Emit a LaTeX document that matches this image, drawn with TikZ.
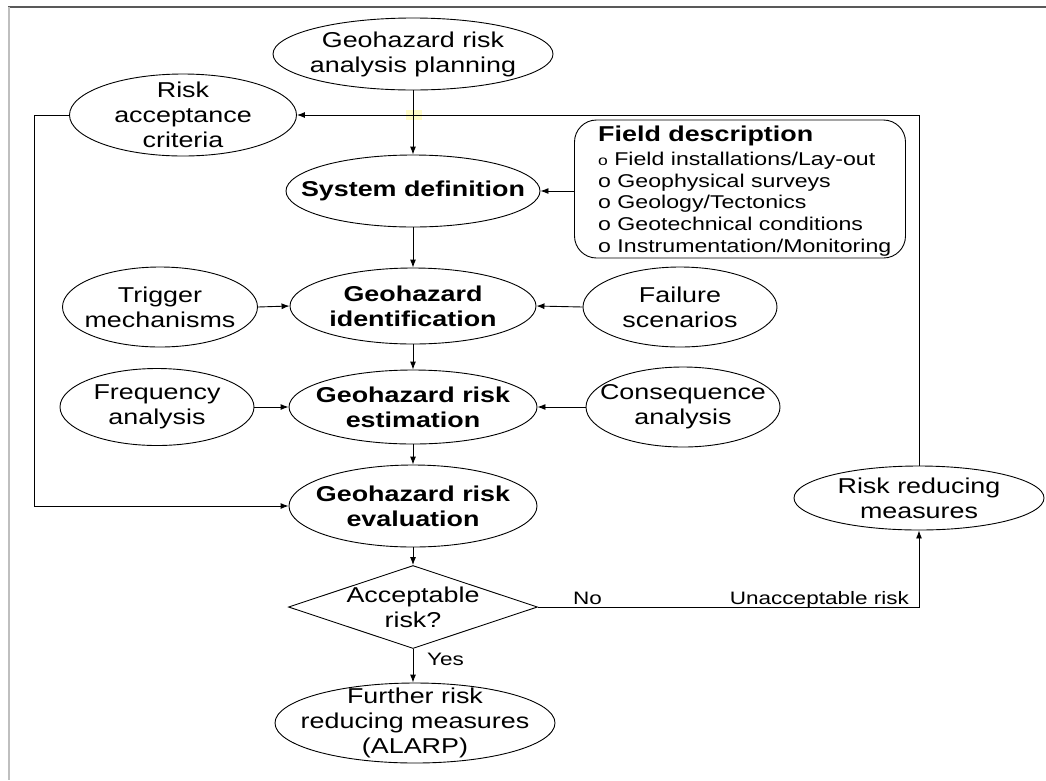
\documentclass[tikz,border=0pt]{standalone}
\usepackage{fontspec}
\setmainfont[FakeStretch=1.25]{Liberation Sans}
\usetikzlibrary{shapes.geometric,arrows.meta}
\begin{document}
\begin{tikzpicture}[x=1pt,y=-1pt,
  ell/.style={draw, ellipse, inner sep=0pt, line width=0.9pt},
  txt/.style={align=center, font=\fontsize{21.5}{25}\selectfont, inner sep=0pt},
  btxt/.style={align=center, font=\fontsize{21.5}{25}\selectfont\bfseries, inner sep=0pt},
  arr/.style={-{Latex[length=8pt,width=6pt]}, line width=0.9pt},
  lbl/.style={font=\fontsize{18}{20}\selectfont, inner sep=0pt},
  item/.style={font=\fontsize{18.5}{21.8}\selectfont, inner sep=0pt, anchor=base west}
]
\useasboundingbox (0,0) rectangle (1046,780);
% frame
\draw[gray!70!black, line width=1.5pt] (8,7) -- (1046,7);
\draw[gray!50, line width=2pt] (9,7) -- (9,780);
% small yellow mark
\fill[yellow!22!white] (406,110) rectangle (422,120);

% nodes
\node[ell, minimum width=280pt, minimum height=72pt, label={[txt]center:{Geohazard risk\\analysis planning}}] (plan) at (413,54) {};
\node[ell, minimum width=227pt, minimum height=82pt, label={[txt]center:{Risk\\acceptance\\criteria}}] (risk) at (183,115) {};
\node[ell, minimum width=254pt, minimum height=72pt, label={[btxt]center:{System definition}}] (sysdef) at (413,191) {};
\node[draw, rounded corners=22pt, line width=0.9pt, minimum width=331pt, minimum height=138pt, inner sep=0pt] (field) at (740,189) {};
\node[anchor=base west, inner sep=0pt, font=\fontsize{21.5}{24}\selectfont\bfseries] (ftitle) at (598,141) {Field description};
\node[item] (f1) at (598,165) {{\fontsize{14}{14}\selectfont o} Field installations/Lay-out};
\node[item] (f2) at (598,187) {o Geophysical surveys};
\node[item] (f3) at (598,208.5) {o Geology/Tectonics};
\node[item] (f4) at (598,230.5) {o Geotechnical conditions};
\node[item] (f5) at (598,252.5) {o Instrumentation/Monitoring};

\node[ell, minimum width=195pt, minimum height=80pt, label={[txt]center:{Trigger\\mechanisms}}] (trig) at (160,307) {};
\node[ell, minimum width=246pt, minimum height=76pt, label={[btxt]center:{Geohazard\\identification}}] (gi) at (413,306) {};
\node[ell, minimum width=194pt, minimum height=80pt, label={[txt]center:{Failure\\scenarios}}] (fail) at (680,307) {};

\node[ell, minimum width=194pt, minimum height=77pt, label={[txt]center:{Frequency\\analysis}}] (freq) at (157,407) {};
\node[ell, minimum width=248pt, minimum height=74pt, label={[btxt]center:{Geohazard risk\\estimation}}] (gre) at (413,407) {};
\node[ell, minimum width=194pt, minimum height=80pt, label={[txt]center:{Consequence\\analysis}}] (cons) at (683,407) {};

\node[ell, minimum width=248pt, minimum height=82pt, label={[btxt]center:{Geohazard risk\\evaluation}}] (grev) at (413,506) {};
\node[ell, minimum width=250pt, minimum height=64pt, label={[txt]center:{Risk reducing\\measures}}] (rrm) at (919,498) {};

\node[draw, diamond, line width=0.9pt, minimum width=249pt, minimum height=83pt, inner sep=0pt, label={[txt]center:{Acceptable\\risk?}}] (acc) at (413,607) {};
\node[ell, minimum width=280pt, minimum height=80pt, label={[txt]center:{Further risk\\reducing measures\\(ALARP)}}] (fur) at (415,723) {};

% connectors
\draw[arr] (plan.south) -- (sysdef.north);
\draw[arr] (field.west |- sysdef.east) -- (sysdef.east);
\draw[arr] (sysdef.south) -- (gi.north);
\draw[arr] (trig.east) -- (gi.west);
\draw[arr] (fail.west) -- (gi.east);
\draw[arr] (gi.south) -- (gre.north);
\draw[arr] (freq.east) -- (gre.west);
\draw[arr] (cons.west) -- (gre.east);
\draw[arr] (gre.south) -- (grev.north);
\draw[arr] (grev.south) -- (acc.north);
\draw[arr] (acc.south) -- (acc.south |- fur.north);
\draw[arr] (acc.east) -- (acc.east -| rrm.south) -- (rrm.south);
\draw[arr] (rrm.north) |- (risk.east);
\draw[arr] (risk.west) -- ++(-35,0) |- (grev.west);

% labels
\node[lbl, anchor=base west] (no) at (573,604) {No};
\node[lbl, anchor=base east] (unacc) at (909,604) {Unacceptable risk};
\node[lbl, anchor=base west] (yes) at (427,665) {Yes};
\end{tikzpicture}
\end{document}
